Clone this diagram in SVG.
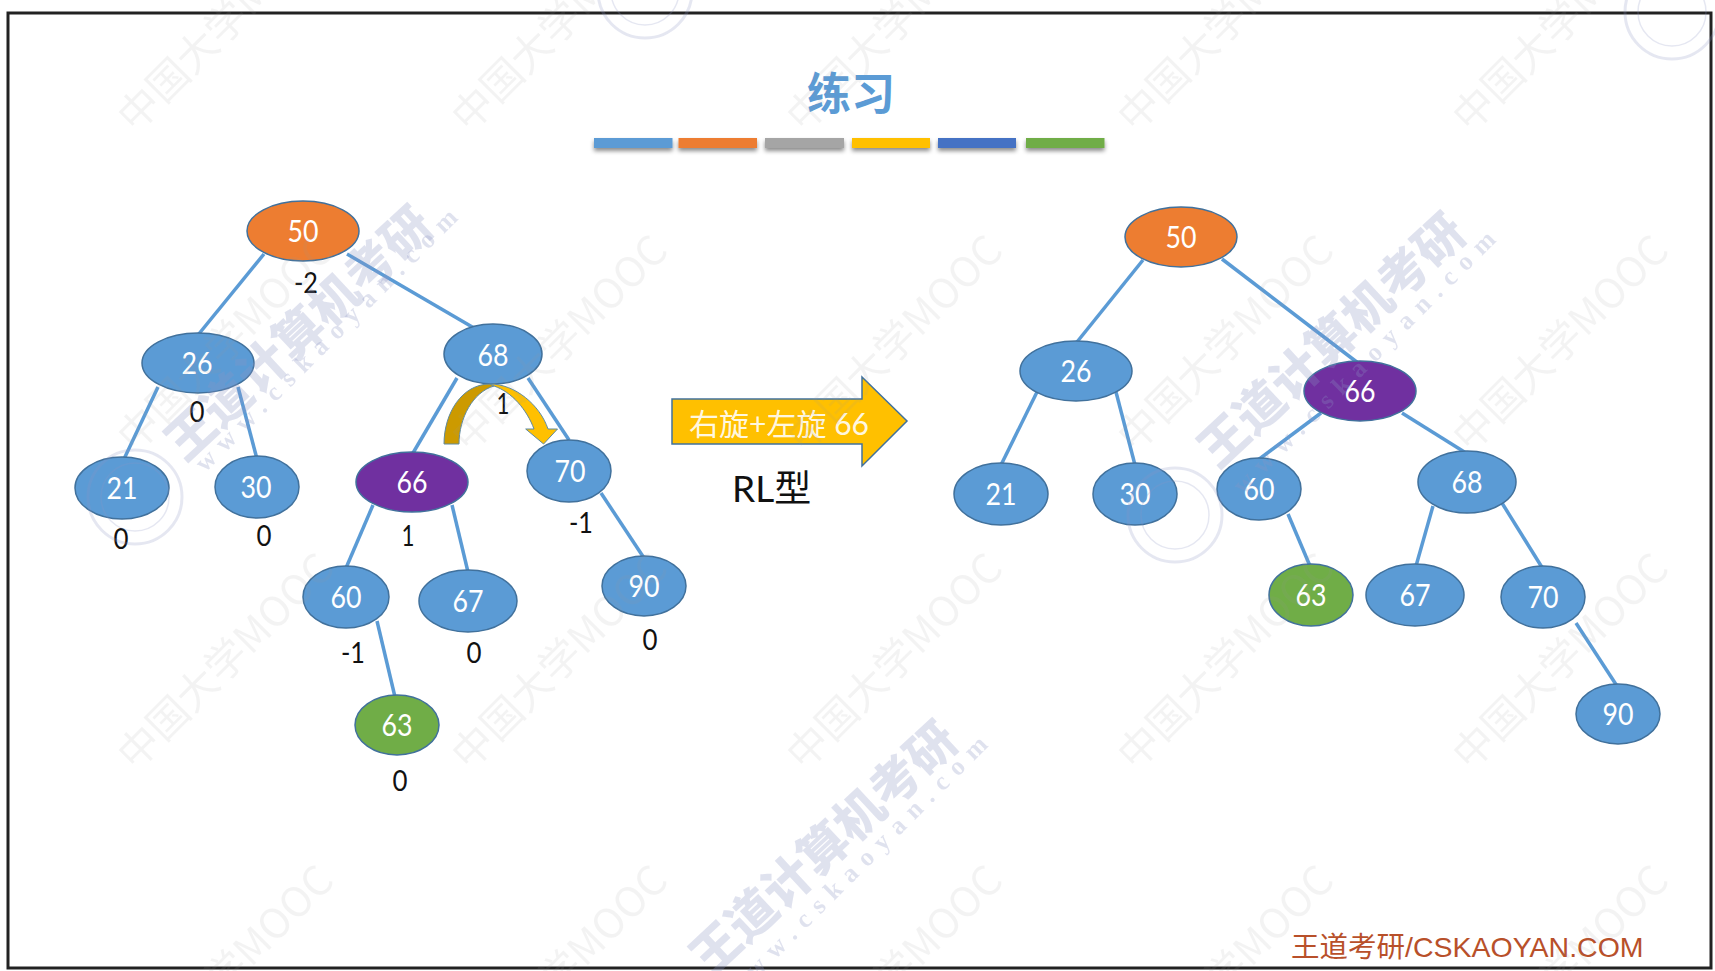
<svg xmlns="http://www.w3.org/2000/svg" width="1715" height="971" viewBox="0 0 1715 971">
<style>
.e{stroke:#5b9bd5;stroke-width:3.5;fill:none}
.n{stroke:#41719c;stroke-width:1.5}
.b{fill:#5b9bd5}.o{fill:#ed7d31}.p{fill:#7030a0}.g{fill:#70ad47}
.t{font-family:Lato,"Noto Sans",sans-serif;font-size:30px;fill:#fff;text-anchor:middle}
.f{font-family:Lato,"Noto Sans",sans-serif;font-size:28px;fill:#111;text-anchor:middle}
.w1{font-family:"Noto Sans CJK SC","Liberation Sans",sans-serif;font-size:41px;fill:#9a9a9a;opacity:.11}
.w2{font-family:"Noto Sans CJK SC",sans-serif;font-size:49px;font-weight:900;fill:#8d95c4;opacity:.27}
.w3{font-family:"Liberation Serif",serif;font-size:26px;font-weight:700;letter-spacing:9.500px;fill:#8d95c4;opacity:.27}
.r{fill:none;stroke:#8d95c4;opacity:.22}
</style>
<defs>
<filter id="s" x="-10%" y="-50%" width="120%" height="250%"><feDropShadow dx="0" dy="3" stdDeviation="2" flood-color="#000" flood-opacity=".45"/></filter>
</defs>
<rect width="1715" height="971" fill="#fff"/>
<rect x="8" y="13" width="1703" height="955" fill="#fff" stroke="#222" stroke-width="3"/>
<text id="title" x="851" y="110" font-family="'Noto Sans CJK SC',sans-serif" font-size="44" font-weight="700" fill="#5b9bd5" text-anchor="middle">练习</text>
<g id="bars" filter="url(#s)">
<rect x="594" y="138" width="78.500" height="10" fill="#5b9bd5"/>
<rect x="678.500" y="138" width="78.500" height="10" fill="#ed7d31"/>
<rect x="765" y="138" width="79" height="10" fill="#a5a5a5"/>
<rect x="852" y="138" width="78" height="10" fill="#ffc000"/>
<rect x="938" y="138" width="78" height="10" fill="#4472c4"/>
<rect x="1026" y="138" width="78.500" height="10" fill="#70ad47"/>
</g>
<g id="connectors">
<line class="e" x1="264" y1="254" x2="198" y2="335"/>
<line class="e" x1="347" y1="254" x2="474" y2="328"/>
<line class="e" x1="158" y1="387" x2="124" y2="459"/>
<line class="e" x1="238" y1="387" x2="257" y2="459"/>
<line class="e" x1="457" y1="378" x2="413" y2="453"/>
<line class="e" x1="528" y1="378" x2="569" y2="440"/>
<line class="e" x1="373" y1="505" x2="346" y2="568"/>
<line class="e" x1="452" y1="505" x2="468" y2="572"/>
<line class="e" x1="601" y1="493" x2="644" y2="558"/>
<line class="e" x1="377" y1="621" x2="395" y2="697"/>
<line class="e" x1="1143" y1="260" x2="1077" y2="342"/>
<line class="e" x1="1222" y1="259" x2="1358" y2="363"/>
<line class="e" x1="1037" y1="392" x2="1001" y2="465"/>
<line class="e" x1="1116" y1="392" x2="1135" y2="465"/>
<line class="e" x1="1321" y1="413" x2="1258" y2="460"/>
<line class="e" x1="1402" y1="413" x2="1466" y2="453"/>
<line class="e" x1="1433" y1="506" x2="1416" y2="566"/>
<line class="e" x1="1502" y1="503" x2="1543" y2="569"/>
<line class="e" x1="1288" y1="514" x2="1310" y2="566"/>
<line class="e" x1="1576" y1="623" x2="1617" y2="686"/>
</g>
<g id="L50"><ellipse class="n o" cx="303" cy="231" rx="56" ry="30"/><text class="t" x="303" y="242" textLength="31" lengthAdjust="spacingAndGlyphs">50</text></g>
<g id="L26"><ellipse class="n b" cx="198" cy="363" rx="56" ry="30"/><text class="t" x="197" y="374" textLength="31" lengthAdjust="spacingAndGlyphs">26</text></g>
<g id="L68"><ellipse class="n b" cx="493" cy="354" rx="49" ry="30"/><text class="t" x="493" y="366" textLength="31" lengthAdjust="spacingAndGlyphs">68</text></g>
<g id="L21"><ellipse class="n b" cx="122" cy="488" rx="47" ry="31"/><text class="t" x="122" y="499" textLength="31" lengthAdjust="spacingAndGlyphs">21</text></g>
<g id="L30"><ellipse class="n b" cx="257" cy="487" rx="42" ry="31"/><text class="t" x="256" y="498" textLength="31" lengthAdjust="spacingAndGlyphs">30</text></g>
<g id="L66"><ellipse class="n p" cx="412" cy="482" rx="56" ry="30"/><text class="t" x="412" y="493" textLength="31" lengthAdjust="spacingAndGlyphs">66</text></g>
<g id="L70"><ellipse class="n b" cx="569" cy="471" rx="42" ry="31"/><text class="t" x="570" y="482" textLength="31" lengthAdjust="spacingAndGlyphs">70</text></g>
<g id="L60"><ellipse class="n b" cx="346" cy="597" rx="43" ry="31"/><text class="t" x="346" y="608" textLength="31" lengthAdjust="spacingAndGlyphs">60</text></g>
<g id="L67"><ellipse class="n b" cx="468" cy="601" rx="49" ry="31"/><text class="t" x="468" y="612" textLength="31" lengthAdjust="spacingAndGlyphs">67</text></g>
<g id="L90"><ellipse class="n b" cx="644" cy="586" rx="42" ry="30"/><text class="t" x="644" y="597" textLength="31" lengthAdjust="spacingAndGlyphs">90</text></g>
<g id="L63"><ellipse class="n g" cx="397" cy="725" rx="42" ry="30"/><text class="t" x="397" y="736" textLength="31" lengthAdjust="spacingAndGlyphs">63</text></g>
<g id="R50"><ellipse class="n o" cx="1181" cy="237" rx="56" ry="30"/><text class="t" x="1181" y="248" textLength="31" lengthAdjust="spacingAndGlyphs">50</text></g>
<g id="R26"><ellipse class="n b" cx="1076" cy="371" rx="56" ry="30"/><text class="t" x="1076" y="382" textLength="31" lengthAdjust="spacingAndGlyphs">26</text></g>
<g id="R66"><ellipse class="n p" cx="1360" cy="391" rx="56" ry="30"/><text class="t" x="1360" y="402" textLength="31" lengthAdjust="spacingAndGlyphs">66</text></g>
<g id="R21"><ellipse class="n b" cx="1001" cy="494" rx="47" ry="31"/><text class="t" x="1001" y="505" textLength="31" lengthAdjust="spacingAndGlyphs">21</text></g>
<g id="R30"><ellipse class="n b" cx="1135" cy="494" rx="42" ry="31"/><text class="t" x="1135" y="505" textLength="31" lengthAdjust="spacingAndGlyphs">30</text></g>
<g id="R60"><ellipse class="n b" cx="1259" cy="489" rx="42" ry="31"/><text class="t" x="1259" y="500" textLength="31" lengthAdjust="spacingAndGlyphs">60</text></g>
<g id="R68"><ellipse class="n b" cx="1467" cy="482" rx="49" ry="31"/><text class="t" x="1467" y="493" textLength="31" lengthAdjust="spacingAndGlyphs">68</text></g>
<g id="R63"><ellipse class="n g" cx="1311" cy="595" rx="42" ry="31"/><text class="t" x="1311" y="606" textLength="31" lengthAdjust="spacingAndGlyphs">63</text></g>
<g id="R67"><ellipse class="n b" cx="1415" cy="595" rx="49" ry="31"/><text class="t" x="1415" y="606" textLength="31" lengthAdjust="spacingAndGlyphs">67</text></g>
<g id="R70"><ellipse class="n b" cx="1543" cy="597" rx="42" ry="31"/><text class="t" x="1543" y="608" textLength="31" lengthAdjust="spacingAndGlyphs">70</text></g>
<g id="R90"><ellipse class="n b" cx="1618" cy="714" rx="42" ry="30"/><text class="t" x="1618" y="725" textLength="31" lengthAdjust="spacingAndGlyphs">90</text></g>
<g id="factors">
<text class="f" x="306" y="293" textLength="24" lengthAdjust="spacingAndGlyphs">-2</text>
<text class="f" x="197" y="422" textLength="15" lengthAdjust="spacingAndGlyphs">0</text>
<text class="f" x="503" y="414" textLength="13" lengthAdjust="spacingAndGlyphs">1</text>
<text class="f" x="121" y="549" textLength="15" lengthAdjust="spacingAndGlyphs">0</text>
<text class="f" x="264" y="546" textLength="15" lengthAdjust="spacingAndGlyphs">0</text>
<text class="f" x="408" y="546" textLength="13" lengthAdjust="spacingAndGlyphs">1</text>
<text class="f" x="581" y="533" textLength="24" lengthAdjust="spacingAndGlyphs">-1</text>
<text class="f" x="474" y="663" textLength="15" lengthAdjust="spacingAndGlyphs">0</text>
<text class="f" x="353" y="663" textLength="24" lengthAdjust="spacingAndGlyphs">-1</text>
<text class="f" x="650" y="650" textLength="15" lengthAdjust="spacingAndGlyphs">0</text>
<text class="f" x="400" y="791" textLength="15" lengthAdjust="spacingAndGlyphs">0</text>
</g>
<g id="curved-arrow" stroke="#5f8aa0" stroke-width="1">
<path d="M444,444 C444,413 462,384 490,384 L494,386 C473,392 459,418 459,444 Z" fill="#cc9a00"/>
<path d="M490,384 C515,384 540,405 548,429 L557.500,429 L543.600,444 L525.700,429 L534,429 C527,410 512,392 494,386 Z" fill="#ffc000"/>
</g>
<g id="rotate-arrow">
<path d="M672,399 H862 V377 L907,421 L862,466 V444 H672 Z" fill="#ffc000" stroke="#41719c" stroke-width="1.500"/>
<text x="689" y="435" font-family="Lato,'Noto Sans CJK SC',sans-serif" font-size="30" fill="#fff" fill-opacity=".9" textLength="180" lengthAdjust="spacingAndGlyphs">右旋+左旋 66</text>
</g>
<text id="rl" x="732" y="502" font-family="Lato,'Noto Sans CJK SC',sans-serif" font-size="37" fill="#111">RL型</text>
<text id="brand" x="1291" y="957" font-family="'Liberation Sans','Noto Sans CJK SC',sans-serif" font-size="28.500" fill="#b8502a">王道考研/CSKAOYAN.COM</text>
<g id="watermark">
<g class="r"><circle cx="135" cy="497" r="47" stroke-width="3"/><circle cx="135" cy="497" r="34" stroke-width="1.500"/><circle cx="1175" cy="515" r="47" stroke-width="3"/><circle cx="1175" cy="515" r="34" stroke-width="1.500"/><circle cx="645" cy="-9" r="47" stroke-width="3"/><circle cx="645" cy="-9" r="34" stroke-width="1.500"/><circle cx="1672" cy="12" r="47" stroke-width="3"/><circle cx="1672" cy="12" r="34" stroke-width="1.500"/></g>
<text class="w1" x="135" y="134" transform="rotate(-45 135 134)">中国大学MOOC</text>
<text class="w1" x="469" y="134" transform="rotate(-45 469 134)">中国大学MOOC</text>
<text class="w1" x="804" y="134" transform="rotate(-45 804 134)">中国大学MOOC</text>
<text class="w1" x="1135" y="134" transform="rotate(-45 1135 134)">中国大学MOOC</text>
<text class="w1" x="1470" y="134" transform="rotate(-45 1470 134)">中国大学MOOC</text>
<text class="w1" x="135" y="454" transform="rotate(-45 135 454)">中国大学MOOC</text>
<text class="w1" x="469" y="454" transform="rotate(-45 469 454)">中国大学MOOC</text>
<text class="w1" x="804" y="454" transform="rotate(-45 804 454)">中国大学MOOC</text>
<text class="w1" x="1135" y="454" transform="rotate(-45 1135 454)">中国大学MOOC</text>
<text class="w1" x="1470" y="454" transform="rotate(-45 1470 454)">中国大学MOOC</text>
<text class="w1" x="135" y="772" transform="rotate(-45 135 772)">中国大学MOOC</text>
<text class="w1" x="469" y="772" transform="rotate(-45 469 772)">中国大学MOOC</text>
<text class="w1" x="804" y="772" transform="rotate(-45 804 772)">中国大学MOOC</text>
<text class="w1" x="1135" y="772" transform="rotate(-45 1135 772)">中国大学MOOC</text>
<text class="w1" x="1470" y="772" transform="rotate(-45 1470 772)">中国大学MOOC</text>
<text class="w1" x="135" y="1084" transform="rotate(-45 135 1084)">中国大学MOOC</text>
<text class="w1" x="469" y="1084" transform="rotate(-45 469 1084)">中国大学MOOC</text>
<text class="w1" x="804" y="1084" transform="rotate(-45 804 1084)">中国大学MOOC</text>
<text class="w1" x="1135" y="1084" transform="rotate(-45 1135 1084)">中国大学MOOC</text>
<text class="w1" x="1470" y="1084" transform="rotate(-45 1470 1084)">中国大学MOOC</text>
<text class="w2" x="185" y="463" transform="rotate(-43 185 463)">王道计算机考研</text>
<text class="w2" x="1218" y="470" transform="rotate(-43 1218 470)">王道计算机考研</text>
<text class="w2" x="710" y="978" transform="rotate(-43 710 978)">王道计算机考研</text>
<text class="w3" x="205" y="473" transform="rotate(-45 205 473)">www.cskaoyan.com</text>
<text class="w3" x="1243" y="495" transform="rotate(-45 1243 495)">www.cskaoyan.com</text>
<text class="w3" x="735" y="1000" transform="rotate(-45 735 1000)">www.cskaoyan.com</text>
</g>
</svg>
